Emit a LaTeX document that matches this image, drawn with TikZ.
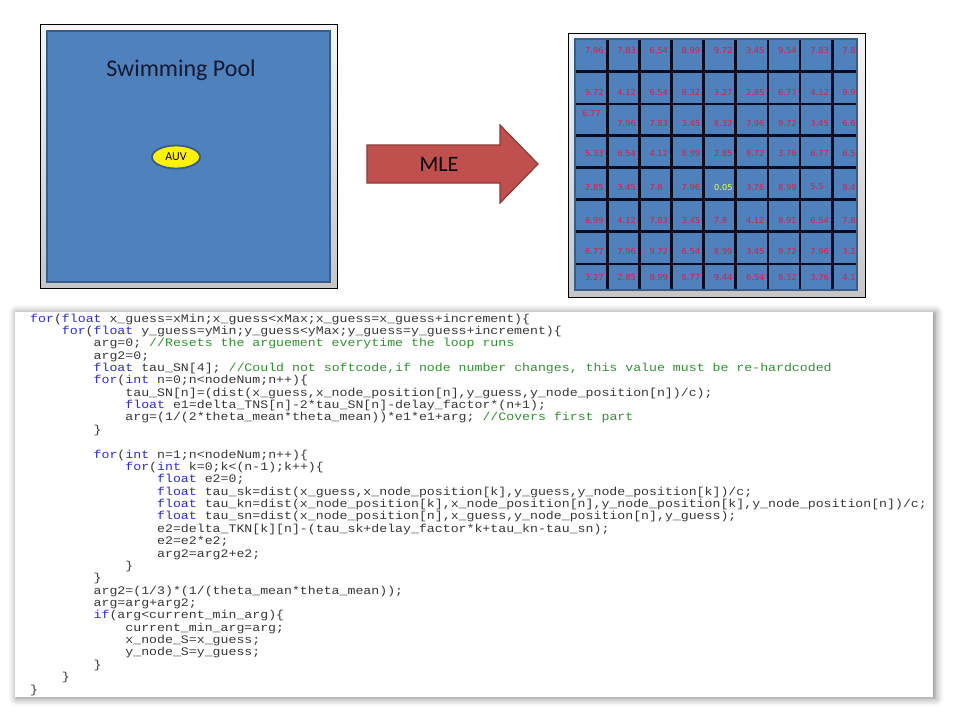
\documentclass[tikz,border=0pt]{standalone}
\usepackage{fontspec}
\setmonofont[FakeStretch=1.15]{Liberation Mono}
\newfontfamily\calfont{Carlito}
\newfontfamily\cellfont{DejaVu Sans}
\usetikzlibrary{shapes.geometric,shadows.blur}

\definecolor{poolblue}{RGB}{79,129,189}
\definecolor{pooledge}{RGB}{56,93,138}
\definecolor{pooltext}{RGB}{20,25,50}
\definecolor{mlered}{RGB}{192,80,77}
\definecolor{mleedge}{RGB}{140,56,54}
\definecolor{cellred}{RGB}{220,30,70}
\definecolor{bestval}{RGB}{230,255,70}
\definecolor{gridink}{RGB}{10,12,30}
\definecolor{kwblue}{RGB}{45,45,215}
\definecolor{cmtgreen}{RGB}{50,145,50}
\definecolor{codegray}{RGB}{55,55,55}

\newcommand{\kw}[1]{\textcolor{kwblue}{#1}}
\newcommand{\cmt}[1]{\textcolor{cmtgreen}{#1}}
\newcommand{\ind}[1]{\hspace*{#1\dimexpr 2.76em\relax}}

\begin{document}
\begin{tikzpicture}[
    x=1pt, y=-1pt,
    frame/.style={draw=black, line width=0.8pt, top color=gray!8, bottom color=gray!45},
    water/.style={fill=poolblue, draw=pooledge, line width=2.5pt},
    cellval/.style={font=\cellfont\fontsize{8.3}{9}\selectfont, text=cellred, anchor=west, inner sep=0pt},
]
\useasboundingbox (0,0) rectangle (960,720);

% pool with the vehicle
\draw[frame] (40,24) rectangle (337,288);
\draw[water] (47,31) rectangle (330,282);
\node[anchor=base, text=pooltext, font=\calfont\fontsize{24}{28}\selectfont] (pool) at (181,76) {Swimming Pool};
\node[ellipse, draw=pooledge, line width=1.8pt, fill=yellow, minimum width=48pt, minimum height=23pt,
      inner sep=0pt, font=\calfont\fontsize{12}{14}\selectfont] (auv) at (176,157) {AUV};

% block arrow
\draw[fill=mlered, draw=mleedge, line width=1.2pt]
    (367,145) -- (500,145) -- (500,125) -- (538,164) -- (500,203) -- (500,183) -- (367,183) -- cycle;
\node[font=\calfont\fontsize{22}{26}\selectfont] (mle) at (439,164) {MLE};

% grid of estimates
\draw[frame] (568,33) rectangle (865,297);
\fill[poolblue] (575,39) rectangle (857,290);
\begin{scope}
    \clip (575,39) rectangle (857,290);
    \foreach \row/\ty [count=\j] in {
        {7.96,7.83,6.54,8.99,9.72,3.45,9.54,7.83,7.8}/50,
        {9.72,4.12,6.54,8.32,3.27,2.85,6.77,4.12,9.9}/92,
        {{},7.96,7.83,3.45,8.32,7.96,9.72,3.45,6.6}/123,
        {5.33,6.54,4.12,8.99,2.85,9.72,3.76,6.77,6.5}/153,
        {2.85,3.45,7.8,7.96,{},3.76,8.99,5.5,8.4}/187,
        {8.99,4.12,7.83,3.45,7.8,4.12,8.91,6.54,7.8}/220,
        {6.77,7.96,9.72,6.54,8.99,3.45,9.72,7.96,3.2}/251,
        {3.27,2.85,8.99,6.77,9.44,6.54,8.32,3.76,4.1}/277}
    {
        \foreach \val [count=\i] in \row
            \node[cellval] (v\j-\i) at (585+32.16*\i-32.16,\ty) {\val};
    }
    \node[cellval] (top) at (582,113) {6.77};
    \node[cellval, text=bestval] (best) at (714,187) {0.05};
    \foreach \k in {1,...,8}
        \draw[gridink, line width=2.7pt] (575+32.16*\k,39) -- (575+32.16*\k,290);
    \foreach \gy in {71.7,104,135.7,167.3,199.3,231.7,264}
        \draw[gridink, line width=2.7pt] (575,\gy) -- (857,\gy);
\end{scope}
\draw[pooledge, line width=2pt] (575,39) rectangle (857,290);

% source listing
\node[fill=white, minimum width=918pt, minimum height=385pt, inner sep=0pt,
      blur shadow={shadow xshift=2pt, shadow yshift=-1pt, shadow blur radius=8pt, shadow opacity=55}]
    (codebox) at (474,504.5) {};
\node[anchor=base west, inner sep=0pt, text=codegray] (code) at (30,322) {%
\begin{minipage}[t]{920pt}\ttfamily\fontsize{11.5}{12.37}\selectfont\frenchspacing
\lineskiplimit=-100pt\lineskip=0pt
\kw{for}(\kw{float} x\_guess=xMin;x\_guess<xMax;x\_guess=x\_guess+increment)\{\\
\ind{1}\kw{for}(\kw{float} y\_guess=yMin;y\_guess<yMax;y\_guess=y\_guess+increment)\{\\
\ind{2}arg=0; \cmt{//Resets the arguement everytime the loop runs}\\
\ind{2}arg2=0;\\
\ind{2}\kw{float} tau\_SN[4]; \cmt{//Could not softcode,if node number changes, this value must be re-hardcoded}\\
\ind{2}\kw{for}(\kw{int} n=0;n<nodeNum;n++)\{\\
\ind{3}tau\_SN[n]=(dist(x\_guess,x\_node\_position[n],y\_guess,y\_node\_position[n])/c);\\
\ind{3}\kw{float} e1=delta\_TNS[n]-2*tau\_SN[n]-delay\_factor*(n+1);\\
\ind{3}arg=(1/(2*theta\_mean*theta\_mean))*e1*e1+arg; \cmt{//Covers first part}\\
\ind{2}\}\\
\mbox{}\\
\ind{2}\kw{for}(\kw{int} n=1;n<nodeNum;n++)\{\\
\ind{3}\kw{for}(\kw{int} k=0;k<(n-1);k++)\{\\
\ind{4}\kw{float} e2=0;\\
\ind{4}\kw{float} tau\_sk=dist(x\_guess,x\_node\_position[k],y\_guess,y\_node\_position[k])/c;\\
\ind{4}\kw{float} tau\_kn=dist(x\_node\_position[k],x\_node\_position[n],y\_node\_position[k],y\_node\_position[n])/c;\\
\ind{4}\kw{float} tau\_sn=dist(x\_node\_position[n],x\_guess,y\_node\_position[n],y\_guess);\\
\ind{4}e2=delta\_TKN[k][n]-(tau\_sk+delay\_factor*k+tau\_kn-tau\_sn);\\
\ind{4}e2=e2*e2;\\
\ind{4}arg2=arg2+e2;\\
\ind{3}\}\\
\ind{2}\}\\
\ind{2}arg2=(1/3)*(1/(theta\_mean*theta\_mean));\\
\ind{2}arg=arg+arg2;\\
\ind{2}\kw{if}(arg<current\_min\_arg)\{\\
\ind{3}current\_min\_arg=arg;\\
\ind{3}x\_node\_S=x\_guess;\\
\ind{3}y\_node\_S=y\_guess;\\
\ind{2}\}\\
\ind{1}\}\\
\}
\end{minipage}};
\end{tikzpicture}
\end{document}
